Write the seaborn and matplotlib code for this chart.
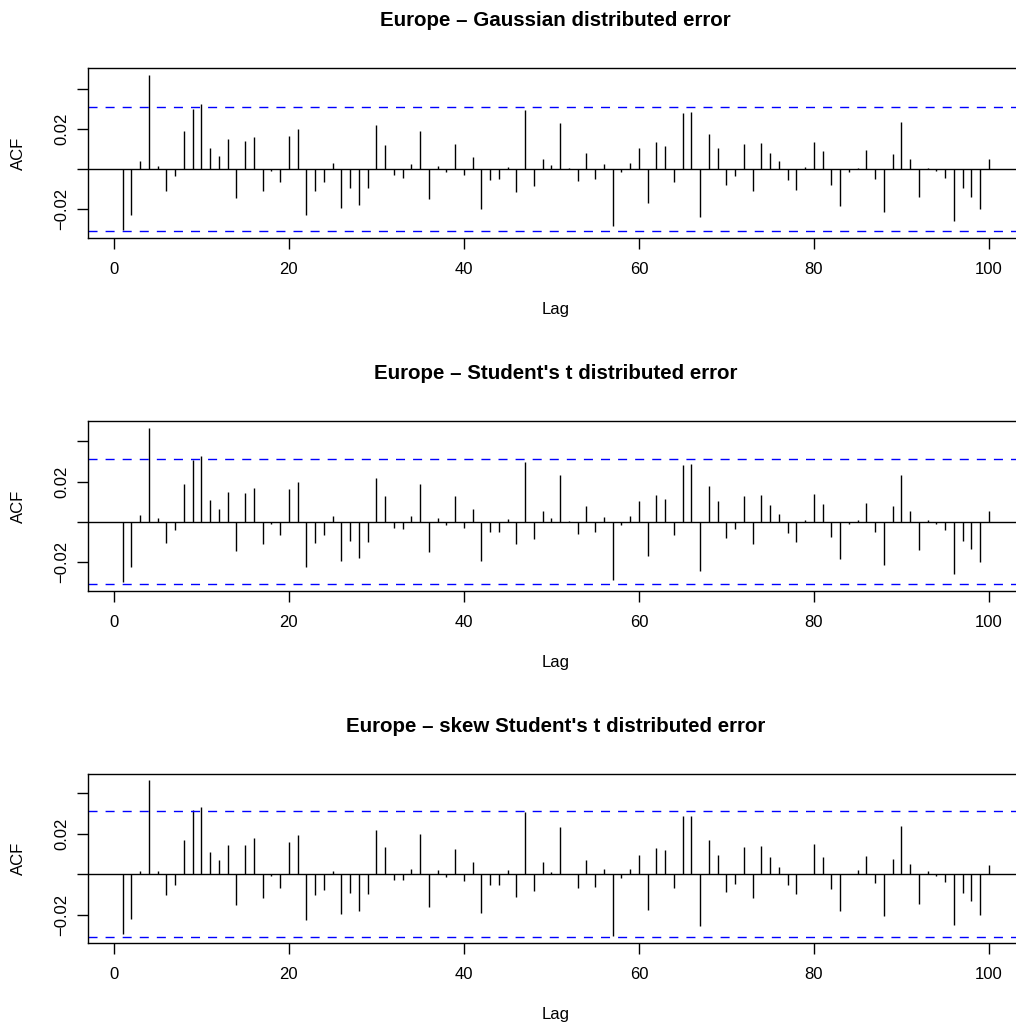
import numpy as np
import pandas as pd
import matplotlib
matplotlib.use("Agg")
import matplotlib.pyplot as plt
import seaborn as sns

# ---------------- data ----------------
lags = list(range(1, 101))

acf_gauss = [
    -0.0305, -0.0227, 0.0040, 0.0473, 0.0018, -0.0108, -0.0035, 0.0193, 0.0300, 0.0328,
    0.0107, 0.0065, 0.0152, -0.0143, 0.0143, 0.0163, -0.0110, -0.0007, -0.0065, 0.0167,
    0.0202, -0.0230, -0.0107, -0.0062, 0.0032, -0.0195, -0.0093, -0.0177, -0.0095, 0.0220,
    0.0123, -0.0028, -0.0042, 0.0027, 0.0192, -0.0148, 0.0015, -0.0015, 0.0127, -0.0028,
    0.0063, -0.0198, -0.0052, -0.0047, 0.0013, -0.0112, 0.0298, -0.0083, 0.0053, 0.0022,
    0.0233, 0.0005, -0.0057, 0.0083, -0.0050, 0.0025, -0.0285, -0.0015, 0.0032, 0.0108,
    -0.0168, 0.0137, 0.0118, -0.0062, 0.0283, 0.0288, -0.0238, 0.0178, 0.0108, -0.0078,
    -0.0033, 0.0128, -0.0107, 0.0130, 0.0083, 0.0040, -0.0052, -0.0102, 0.0013, 0.0135,
    0.0092, -0.0077, -0.0182, -0.0015, 0.0005, 0.0095, -0.0047, -0.0215, 0.0078, 0.0237,
    0.0050, -0.0140, 0.0008, -0.0007, -0.0043, -0.0260, -0.0093, -0.0137, -0.0200, 0.0053,
]

acf_student = [
    -0.0296, -0.0225, 0.0033, 0.0468, 0.0018, -0.0104, -0.0038, 0.0187, 0.0306, 0.0329,
    0.0110, 0.0066, 0.0150, -0.0145, 0.0145, 0.0170, -0.0109, -0.0008, -0.0064, 0.0165,
    0.0200, -0.0226, -0.0104, -0.0063, 0.0031, -0.0193, -0.0093, -0.0177, -0.0098, 0.0220,
    0.0127, -0.0028, -0.0036, 0.0030, 0.0190, -0.0149, 0.0021, -0.0017, 0.0127, -0.0028,
    0.0066, -0.0195, -0.0051, -0.0048, 0.0015, -0.0111, 0.0299, -0.0084, 0.0056, 0.0021,
    0.0235, 0.0003, -0.0058, 0.0081, -0.0050, 0.0026, -0.0289, -0.0015, 0.0030, 0.0106,
    -0.0169, 0.0136, 0.0116, -0.0064, 0.0284, 0.0288, -0.0243, 0.0177, 0.0102, -0.0081,
    -0.0033, 0.0131, -0.0109, 0.0132, 0.0084, 0.0038, -0.0053, -0.0102, 0.0012, 0.0140,
    0.0091, -0.0076, -0.0183, -0.0012, 0.0008, 0.0094, -0.0048, -0.0215, 0.0078, 0.0235,
    0.0053, -0.0140, 0.0010, -0.0010, -0.0040, -0.0258, -0.0094, -0.0136, -0.0200, 0.0053,
]

acf_skew = [
    -0.0293, -0.0222, 0.0018, 0.0464, 0.0018, -0.0102, -0.0053, 0.0171, 0.0316, 0.0331,
    0.0110, 0.0071, 0.0142, -0.0150, 0.0145, 0.0181, -0.0117, -0.0008, -0.0066, 0.0161,
    0.0193, -0.0226, -0.0104, -0.0079, 0.0018, -0.0198, -0.0091, -0.0181, -0.0097, 0.0216,
    0.0133, -0.0028, -0.0028, 0.0028, 0.0199, -0.0160, 0.0020, -0.0015, 0.0125, -0.0033,
    0.0061, -0.0193, -0.0051, -0.0054, 0.0020, -0.0112, 0.0309, -0.0084, 0.0058, 0.0013,
    0.0234, 0.0002, -0.0066, 0.0072, -0.0061, 0.0028, -0.0305, -0.0020, 0.0028, 0.0094,
    -0.0176, 0.0127, 0.0117, -0.0067, 0.0285, 0.0288, -0.0257, 0.0171, 0.0094, -0.0087,
    -0.0048, 0.0133, -0.0119, 0.0138, 0.0086, 0.0038, -0.0051, -0.0099, 0.0003, 0.0150,
    0.0084, -0.0071, -0.0181, 0.0003, 0.0020, 0.0092, -0.0043, -0.0204, 0.0076, 0.0237,
    0.0049, -0.0147, 0.0015, -0.0007, -0.0038, -0.0249, -0.0092, -0.0132, -0.0201, 0.0046,
]

titles = [
    "Europe \u2013 Gaussian distributed error",
    "Europe \u2013 Student's t distributed error",
    "Europe \u2013 skew Student's t distributed error",
]
ci_bound = 0.031
x_ticks = [0, 20, 40, 60, 80, 100]
y_ticks = [-0.02, 0.0, 0.02, 0.04]
y_ticklabels = ["\u22120.02", "", "0.02", ""]

# ---------------- style ----------------
sns.set_theme(style="white")
plt.rcParams["font.family"] = ["Liberation Sans", "DejaVu Sans"]
plt.rcParams["lines.scale_dashes"] = False

W, H = 1016, 1023
fig = plt.figure(figsize=(W / 100, H / 100), dpi=100)
fig.patch.set_facecolor("white")

left_px, width_px, height_px = 88.0, 935.6, 169.4
bottoms_px = [237.7, 590.7, 943.3]

series = [acf_gauss, acf_student, acf_skew]

for vals, title, bpx in zip(series, titles, bottoms_px):
    ax = fig.add_axes([left_px / W, (H - bpx) / H, width_px / W, height_px / H])
    ax.set_facecolor("white")
    df = pd.DataFrame({"Lag": lags, "ACF": vals})

    # axis limits like R: range of data and CI, expanded by 4%
    lo = min(df["ACF"].min(), -ci_bound)
    hi = max(df["ACF"].max(), ci_bound)
    pad_y = 0.04 * (hi - lo)
    xl, xh = df["Lag"].min(), df["Lag"].max()
    pad_x = 0.04 * (xh - xl)
    ax.set_xlim(xl - pad_x, xh + pad_x)
    ax.set_ylim(lo - pad_y, hi + pad_y)

    ax.vlines(df["Lag"], 0, df["ACF"], color="black", linewidth=1.0)
    ax.axhline(0, color="black", linewidth=1.0)
    for c in (ci_bound, -ci_bound):
        ax.axhline(c, color="#0000FF", linewidth=1.0, linestyle=(0, (6.5, 5.8)))

    for sp in ax.spines.values():
        sp.set_color("black")
        sp.set_linewidth(1.0)
        sp.set_visible(True)

    ax.set_xticks(x_ticks)
    ax.set_xticklabels([str(t) for t in x_ticks])
    ax.set_yticks(y_ticks)
    ax.set_yticklabels(y_ticklabels, rotation=90, va="center")
    ax.tick_params(axis="both", which="major", direction="out", length=7.7,
                   width=1.0, color="black", labelsize=12, labelcolor="black",
                   bottom=True, left=True)
    ax.tick_params(axis="x", pad=9.5)
    ax.tick_params(axis="y", pad=5.6)

    ax.set_xlabel("Lag", fontsize=12, color="black")
    ax.xaxis.label.set_va("center")
    ax.xaxis.set_label_coords(0.5, -71.6 / height_px)
    ax.set_ylabel("ACF", fontsize=12, color="black")
    ax.yaxis.label.set_va("center")
    ax.yaxis.set_label_coords(-69.3 / width_px, 0.5)

    ax.set_title(title, fontsize=14.8, fontweight="bold", color="black",
                 y=1 + 47.5 / height_px, va="center", pad=0)
    ax.grid(False)

fig.savefig("out.png", dpi=100, facecolor="white")
